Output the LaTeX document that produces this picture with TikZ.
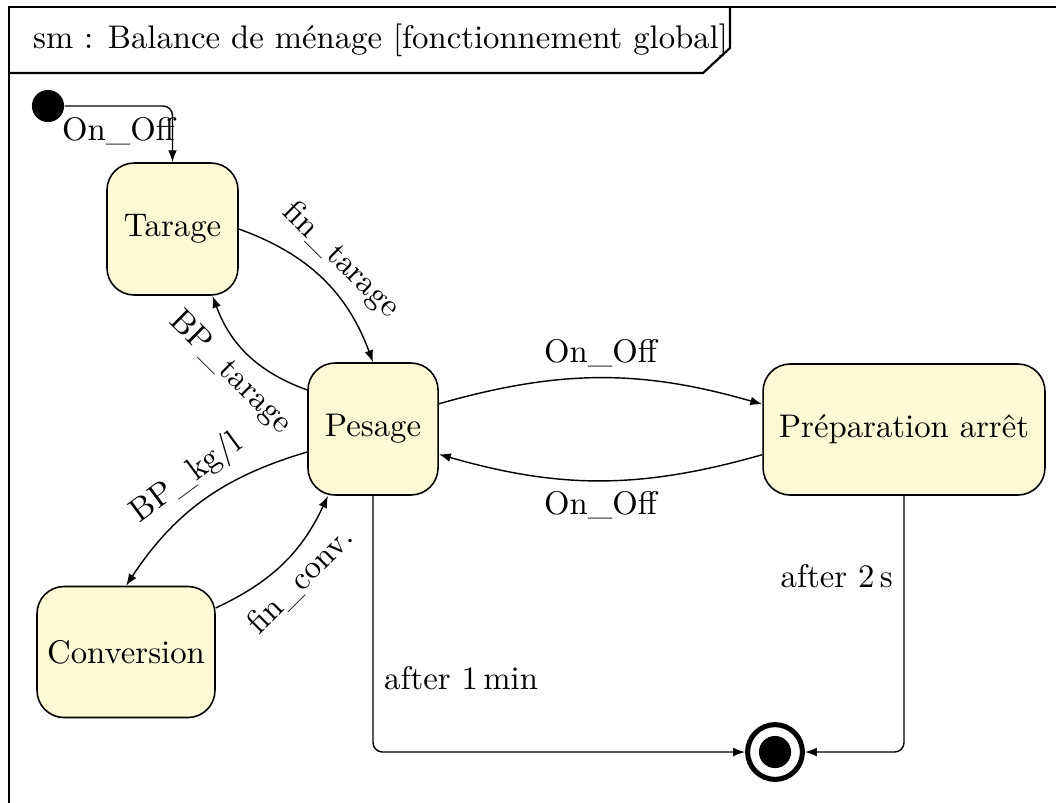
\documentclass[tikz,border=0pt]{standalone}
\usepackage{fontspec}
\usetikzlibrary{arrows.meta}
\definecolor{stfill}{RGB}{255,249,214}
\begin{document}
\begin{tikzpicture}[x=0.3175pt,y=-0.3175pt,
  every node/.style={font=\fontsize{10.4pt}{12.5pt}\selectfont},
  frame/.style={line width=0.7pt},
  state/.style={draw, rounded corners=8.6pt, fill=stfill, line width=0.5pt,
    inner sep=0pt, align=center},
  initstate/.style={circle, fill=black, minimum size=10.2pt, inner sep=0pt},
  finalstate/.style={circle, draw, line width=1.6pt, minimum size=17.4pt, inner sep=0pt,
    path picture={\fill (path picture bounding box.center) circle (5.1pt);}},
  tr/.style={-{Latex[length=3.8pt,width=2.8pt]}, line width=0.45pt}]
\useasboundingbox (0,0) rectangle (1056,802);
\clip (0,0) rectangle (1056,802);

% diagram frame and name tab
\draw[frame] (9,7) rectangle (1120,860);
\draw[frame] (9,73) -- (703,73) -- (730,48) -- (730,7);
\node[anchor=west] (title) at (22,40) {sm : Balance de ménage [fonctionnement global]};

% states
\node[state, minimum width=41.6pt, minimum height=41.9pt] (tarage) at (172.5,229) {Tarage};
\node[state, minimum width=41.3pt, minimum height=41.9pt] (pesage) at (373,429) {Pesage};
\node[state, minimum width=89.5pt, minimum height=41.6pt] (prep) at (904,429.5) {Préparation arrêt};
\node[state, minimum width=56.5pt, minimum height=41.6pt] (conv) at (126,652) {Conversion};
\node[initstate] (init) at (48,106) {};
\node[finalstate] (fin) at (775,752) {};

% transitions
\draw[tr, rounded corners=3pt] (init) -| node[below, pos=0.25] {On\_Off} (tarage);
\draw[tr] (tarage.east) to[bend left=25] node[sloped, above] {fin\_tarage} (pesage.north);
\draw[tr] ([yshift=12.4pt]pesage.west) to[bend left=25] node[sloped, below] {BP\_tarage} ([xshift=12.7pt]tarage.south);
\draw[tr] ([yshift=-7.3pt]pesage.west) to[bend right=20] node[sloped, above] {BP\_kg/l} (conv.north);
\draw[tr] ([yshift=14pt]conv.east) to[bend right=20] node[sloped, below] {fin\_conv.} ([xshift=-14.3pt]pesage.south);
\draw[tr] ([yshift=8pt]pesage.east) to[bend left=16] node[above] {On\_Off} ([yshift=8pt]prep.west);
\draw[tr] ([yshift=-8pt]prep.west) to[bend left=16] node[below] {On\_Off} ([yshift=-8pt]pesage.east);
\draw[tr, rounded corners=3pt] (pesage.south) |- node[pos=0.356, right] {after 1\,min} (fin.west);
\draw[tr, rounded corners=3pt] (prep.south) |- node[pos=0.156, left] {after 2\,s} (fin.east);
\end{tikzpicture}
\end{document}
